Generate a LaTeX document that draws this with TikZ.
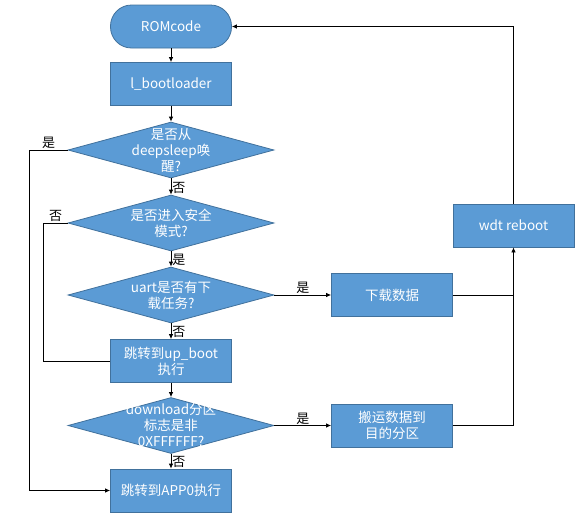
\documentclass[tikz,border=0pt]{standalone}
\usepackage{fontspec}
\setmainfont{Noto Sans CJK SC}
\usetikzlibrary{shapes.geometric,arrows.meta}

\definecolor{boxblue}{HTML}{5B9BD5}
\definecolor{boxedge}{HTML}{41719C}

\tikzset{
  blk/.style={rectangle,draw=boxedge,fill=boxblue,text=white,
    minimum width=121pt,minimum height=43pt,inner sep=2pt,align=center,
    font=\fontsize{13.5}{16}\selectfont},
  term/.style={blk,rounded corners=21pt},
  decision/.style={diamond,draw=boxedge,fill=boxblue,
    minimum width=206pt,minimum height=56pt,inner sep=0pt},
  dtext/.style={text=white,align=center,inner sep=0pt,
    font=\fontsize{13.5}{16}\selectfont},
  lbl/.style={font=\fontsize{13}{14}\selectfont,inner sep=1pt},
  arr/.style={-{Latex[length=5pt,width=4.5pt]}},
}

\begin{document}
\begin{tikzpicture}[x=1pt,y=-1pt,line width=0.8pt]

	\useasboundingbox (0,0) rectangle (582,525);

	% main column
	\node[term] (rom) at (171,26.5) {ROMcode};
	\node[blk] (boot) at (171,84) {l\_bootloader};
	\node[decision] (d1) at (171,150) {};
	\node[dtext] (d1t) at (d1) {是否从\\deepsleep唤\\醒?};
	\node[decision] (d2) at (171,223) {};
	\node[dtext] (d2t) at (d2) {是否进入安全\\模式?};
	\node[decision] (d3) at (171,295) {};
	\node[dtext] (d3t) at (d3) {uart是否有下\\载任务?};
	\node[blk] (up) at (171,361) {跳转到up\_boot\\执行};
	\node[decision] (d4) at (171,425.5) {};
	\node[dtext] (d4t) at (d4) {download分区\\标志是非\\0XFFFFFF?};
	\node[blk] (app) at (171,490.5) {跳转到APP0执行};

	% right column
	\node[blk] (dl) at (392,295) {下载数据};
	\node[blk] (mv) at (392,425.5) {搬运数据到\\目的分区};
	\node[blk] (wdt) at (513.5,225.5) {wdt reboot};

	\draw[arr] (rom) -- (boot);
	\draw[arr] (boot) -- (d1);
	\draw[arr] (d1) -- node[pos=1,lbl,anchor=south west] {否} (d2);
	\draw[arr] (d2) -- node[pos=1,lbl,anchor=south west] {是} (d3);
	\draw[arr] (d3) -- node[pos=1,lbl,anchor=south west] {否} (up);
	\draw[arr] (up) -- (d4);
	\draw[arr] (d4) -- node[pos=1,lbl,anchor=south west] {否} (app);

	\draw[arr] (d1.west) -- node[lbl,above] {是} ++(-38,0) |- (app.west);
	\draw (d2.west) -- node[lbl,above] {否} ++(-24,0) |- (up.west);

	\draw[arr] (d3.east) -- node[lbl,above] {是} (dl.west);
	\draw[arr] (d4.east) -- node[lbl,above] {是} (mv.west);

	\draw (dl.east) -- (dl.east -| wdt.south);
	\draw[arr] (mv.east) -| (wdt.south);
	\draw[arr] (wdt.north) |- (rom.east);

\end{tikzpicture}
\end{document}
